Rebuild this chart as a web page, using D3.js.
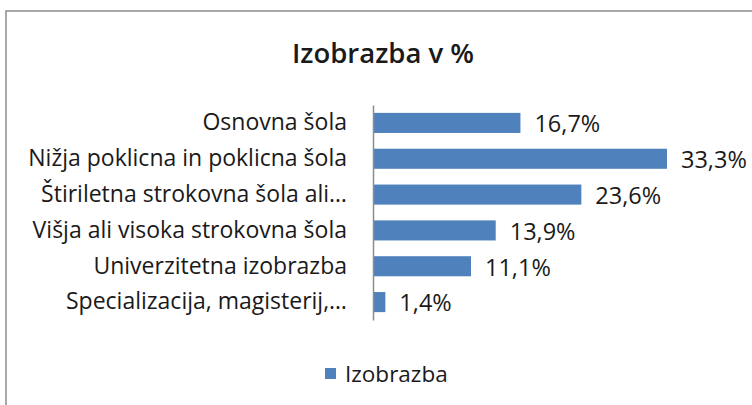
<!DOCTYPE html>
<html>
<head>
<meta charset="utf-8">
<script src="https://cdn.jsdelivr.net/npm/d3@7"></script>
<style>
  body { margin: 0; background: #fff; }
  svg text { font-family: "Open Sans", sans-serif; fill: #1a1a1a; }
</style>
</head>
<body>
<svg width="752" height="405"></svg>
<script>
const width = 752;
const height = 405;

const categories = [
  "Osnovna šola",
  "Nižja poklicna in poklicna šola",
  "Štiriletna strokovna šola ali…",
  "Višja ali visoka strokovna šola",
  "Univerzitetna izobrazba",
  "Specializacija, magisterij,…"
];
const values = [16.7, 33.3, 23.6, 13.9, 11.1, 1.4];
const seriesName = "Izobrazba";
const title = "Izobrazba v %";

const blue = "#4f81bd";

const svg = d3.select("svg");

// chart frame (runs off the right and bottom edges)
svg.append("rect")
  .attr("x", 6)
  .attr("y", 11)
  .attr("width", 800)
  .attr("height", 450)
  .attr("fill", "#fff")
  .attr("stroke", "#8c8c8c")
  .attr("stroke-width", 1.5);

svg.append("text")
  .attr("x", 383)
  .attr("y", 63)
  .attr("text-anchor", "middle")
  .attr("font-size", 27.5)
  .attr("font-weight", 600)
  .text(title);

let x = d3.scaleLinear()
  .domain([0, 35])
  .range([373, 682]);

let y = d3.scaleBand()
  .domain(categories)
  .range([105, 320])
  .paddingInner(0.44)
  .paddingOuter(0.22);

const g = svg.append("g");

g.selectAll(".bar")
  .data(values)
  .join("rect")
  .attr("class", "bar")
  .attr("x", x(0))
  .attr("y", (d, i) => y(categories[i]))
  .attr("width", d => x(d) - x(0))
  .attr("height", y.bandwidth())
  .attr("fill", blue);

g.selectAll(".val")
  .data(values)
  .join("text")
  .attr("class", "val")
  .attr("x", d => x(d) + 14)
  .attr("y", (d, i) => y(categories[i]) + y.bandwidth() / 2)
  .attr("dy", "0.4em")
  .attr("font-size", 23.5)
  .text(d => d3.format(".1f")(d).replace(".", ",") + "%");

// category axis
const axis = d3.axisLeft(y).tickSize(0).tickPadding(26);
const ax = svg.append("g")
  .attr("transform", `translate(${x(0)},0)`)
  .call(axis);
ax.select(".domain").attr("stroke", "#8c8c8c").attr("stroke-width", 1.5);
ax.selectAll("text")
  .attr("font-size", 23)
  .attr("font-family", "Open Sans, sans-serif")
  .attr("fill", "#1a1a1a");

// legend
const lg = svg.append("g").attr("transform", "translate(325,368)");
lg.append("rect")
  .attr("width", 11)
  .attr("height", 11)
  .attr("fill", blue);
lg.append("text")
  .attr("x", 20)
  .attr("y", 5.5)
  .attr("dy", "0.38em")
  .attr("font-size", 22.5)
  .text(seriesName);
</script>
</body>
</html>
